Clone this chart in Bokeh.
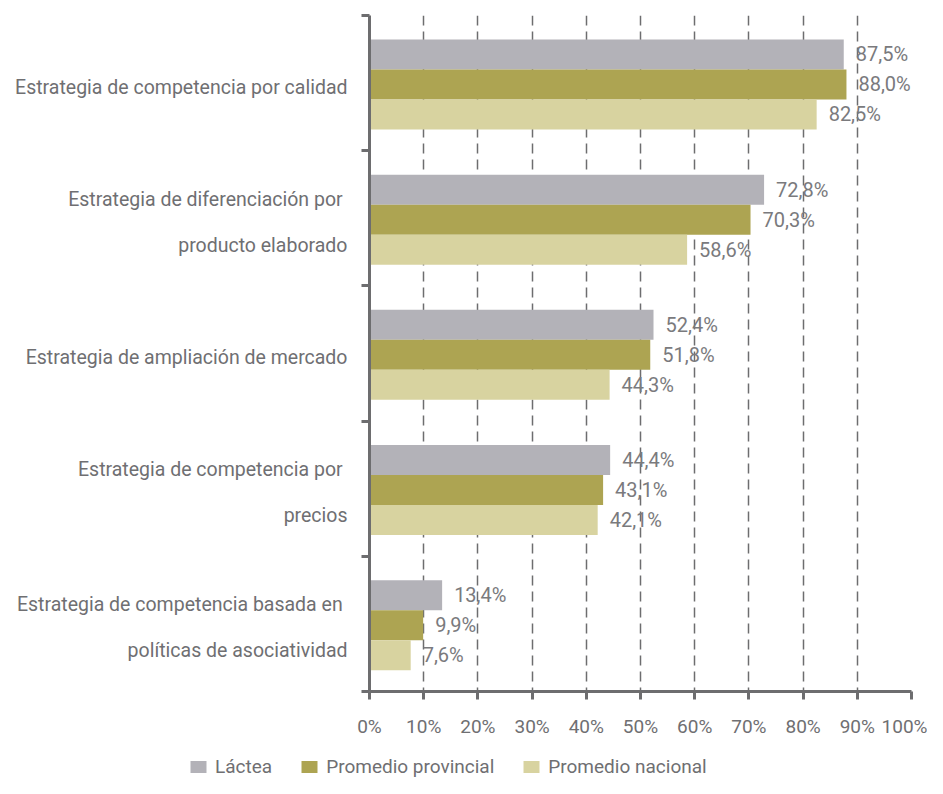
from bokeh.plotting import figure
from bokeh.layouts import column
from bokeh.models import (ColumnDataSource, Range1d, FixedTicker, LabelSet, Legend, LegendItem)
from bokeh.core.properties import value
from bokeh.embed import file_html
from bokeh.resources import INLINE

categories = [
    "Estrategia de competencia por calidad",
    "Estrategia de diferenciación por \nproducto elaborado",
    "Estrategia de ampliación de mercado",
    "Estrategia de competencia por \nprecios",
    "Estrategia de competencia basada en \npolíticas de asociatividad",
]
series_names = ["Láctea", "Promedio provincial", "Promedio nacional"]
lactea = [87.5, 72.8, 52.4, 44.4, 13.4]
provincial = [88.0, 70.3, 51.8, 43.1, 9.9]
nacional = [82.5, 58.6, 44.3, 42.1, 7.6]
x_ticks = [0, 10, 20, 30, 40, 50, 60, 70, 80, 90, 100]

colors = ["#b3b2b8", "#ada452", "#d8d3a0"]
FONT = "Roboto"
TXT = "#6f6f72"
AX = "#6d6d6f"

GROUP = 100  # y units per category band
p = figure(width=927, height=740, output_backend="svg", toolbar_location=None,
           x_range=Range1d(0, 100), y_range=Range1d(GROUP * len(categories), 0),
           min_border_left=369, min_border_right=16, min_border_top=15, min_border_bottom=48)
p.outline_line_color = None
p.frame_align = False

# grid
p.ygrid.grid_line_color = None
p.xgrid.ticker = FixedTicker(ticks=x_ticks)
p.xgrid.grid_line_color = AX
p.xgrid.grid_line_width = 1.5
p.xgrid.grid_line_dash = "10 6"

# x axis
p.xaxis.ticker = FixedTicker(ticks=x_ticks)
p.xaxis.major_label_overrides = {t: f"{t}%" for t in x_ticks}
p.xaxis.axis_line_color = AX
p.xaxis.axis_line_width = 3
p.xaxis.major_tick_line_color = AX
p.xaxis.major_tick_line_width = 3
p.xaxis.major_tick_in = 0
p.xaxis.major_tick_out = 8
p.xaxis.minor_tick_line_color = None
p.xaxis.major_label_text_font = FONT
p.xaxis.major_label_text_font_size = "19px"
p.xaxis.major_label_text_color = TXT
p.xaxis.major_label_standoff = 15

# y axis: category lines as labels, boundary ticks as minor ticks
line_gap = 33
label_shift = 3
line_pos, overrides = [], {}
for i, cat in enumerate(categories):
    lines = cat.split("\n")
    n = len(lines)
    for j, ln in enumerate(lines):
        yv = int(round(i * GROUP + GROUP / 2 + label_shift + (j - (n - 1) / 2) * line_gap))
        line_pos.append(yv)
        overrides[yv] = ln
bounds = [i * GROUP for i in range(len(categories) + 1)]
p.yaxis.ticker = FixedTicker(ticks=line_pos, minor_ticks=bounds)
p.yaxis.major_label_overrides = overrides
p.yaxis.major_label_text_font = FONT
p.yaxis.major_label_text_font_size = "19.5px"
p.yaxis.major_label_text_color = TXT
p.yaxis.major_label_standoff = 14
p.yaxis.axis_line_color = AX
p.yaxis.axis_line_width = 3
p.yaxis.major_tick_line_color = None
p.yaxis.major_tick_in = 0
p.yaxis.major_tick_out = 0
p.yaxis.minor_tick_line_color = AX
p.yaxis.minor_tick_line_width = 3
p.yaxis.minor_tick_in = 0
p.yaxis.minor_tick_out = 8

bar_h = 0.222 * GROUP
offsets = [-bar_h, 0.0, bar_h]
all_series = [lactea, provincial, nacional]
lab_x, lab_y, lab_t = [], [], []
for vals, off, col in zip(all_series, offsets, colors):
    ys = [i * GROUP + GROUP / 2 + 1 + off for i in range(len(categories))]
    src = ColumnDataSource(dict(y=ys, right=vals))
    p.hbar(y="y", right="right", left=0, height=bar_h, source=src,
           fill_color=col, line_color=None)
    for v, y in zip(vals, ys):
        lab_x.append(v)
        lab_y.append(y)
        lab_t.append(f"{v:.1f}%".replace(".", ","))

vals_src = ColumnDataSource(dict(x=lab_x, y=lab_y, t=lab_t))
p.add_layout(LabelSet(x="x", y="y", text="t", source=vals_src, x_offset=12,
                      text_baseline="middle", text_align="left",
                      text_font=value(FONT), text_font_size="20px", text_color="#7a7a7d"))

# legend strip below the chart
lg = figure(width=927, height=38, output_backend="svg", toolbar_location=None,
            x_axis_type=None, y_axis_type=None, x_range=Range1d(0, 1), y_range=Range1d(0, 1),
            min_border=0, min_border_left=0, min_border_right=0, min_border_top=0, min_border_bottom=0)
lg.outline_line_color = None
lg.grid.visible = False
lg.frame_align = False
leg_renderers = []
for col in colors:
    # zero-width placeholder bar: only its style is used by the legend swatch
    r = lg.hbar(y=[0.5], left=[0], right=[0], height=0.5, fill_color=col, line_color=None)
    leg_renderers.append(r)
legend = Legend(items=[LegendItem(label=n, renderers=[r]) for n, r in zip(series_names, leg_renderers)],
                orientation="horizontal", location=(188, 0),
                label_text_font=FONT, label_text_font_size="19px", label_text_color=TXT,
                glyph_width=20, glyph_height=15, label_standoff=7, spacing=27,
                padding=0, margin=0, border_line_color=None, background_fill_alpha=0)
lg.add_layout(legend)

layout = column(p, lg, spacing=0)
open("out.html", "w").write(file_html(layout, INLINE))
